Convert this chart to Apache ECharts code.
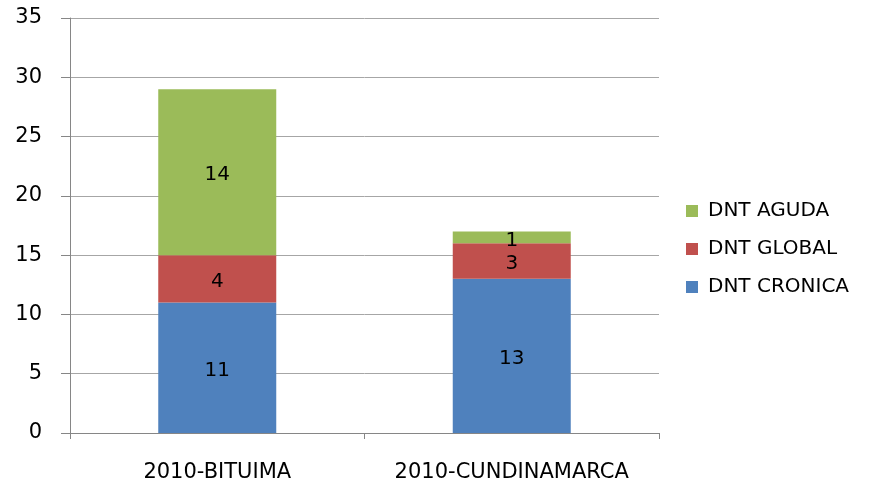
<!DOCTYPE html>
<html>
<head>
<meta charset="utf-8">
<script src="https://cdn.jsdelivr.net/npm/echarts@6/dist/echarts.min.js"></script>
<style>
  html, body { margin: 0; padding: 0; background: #fff; }
  #chart { width: 886px; height: 486px; }
</style>
</head>
<body>
<div id="chart"></div>
<script>
var categories = ['2010-BITUIMA', '2010-CUNDINAMARCA'];
var cronica = [11, 13];
var global = [4, 3];
var aguda = [14, 1];
var yTicks = [0, 5, 10, 15, 20, 25, 30, 35];

var font = 'DejaVu Sans';
var chart = echarts.init(document.getElementById('chart'), null, {renderer: 'canvas'});

function serie(name, data, color) {
    return {
        name: name,
        type: 'bar',
        stack: 'total',
        data: data,
        barWidth: 118,
        itemStyle: {color: color},
        label: {
            show: true,
            position: 'inside',
            offset: [0, 3],
            color: '#000',
            fontFamily: font,
            fontSize: 20
        }
    };
}

chart.setOption({
    animation: false,
    grid: {left: 70, right: 227, top: 18, bottom: 53},
    legend: {
        orient: 'vertical',
        left: 681,
        top: 196,
        itemWidth: 12,
        itemHeight: 12,
        itemGap: 18,
        icon: 'rect',
        data: ['DNT AGUDA', 'DNT GLOBAL', 'DNT CRONICA'],
        textStyle: {fontFamily: font, fontSize: 20, color: '#000', padding: [0, 0, 0, 5]}
    },
    xAxis: {
        type: 'category',
        data: categories,
        axisLine: {lineStyle: {color: '#868686'}},
        axisTick: {show: true, length: 6, lineStyle: {color: '#868686'}},
        axisLabel: {interval: 0, margin: 29, fontFamily: font, fontSize: 21, color: '#000'}
    },
    yAxis: {
        type: 'value',
        min: yTicks[0],
        max: yTicks[yTicks.length - 1],
        interval: 5,
        axisLine: {show: true, lineStyle: {color: '#868686'}},
        axisTick: {show: true, length: 9, lineStyle: {color: '#868686'}},
        splitLine: {lineStyle: {color: '#a6a6a6'}},
        axisLabel: {margin: 28, fontFamily: font, fontSize: 21, color: '#000'}
    },
    series: [
        serie('DNT CRONICA', cronica, '#4f81bd'),
        serie('DNT GLOBAL', global, '#c0504d'),
        serie('DNT AGUDA', aguda, '#9bbb59')
    ]
});
</script>
</body>
</html>
